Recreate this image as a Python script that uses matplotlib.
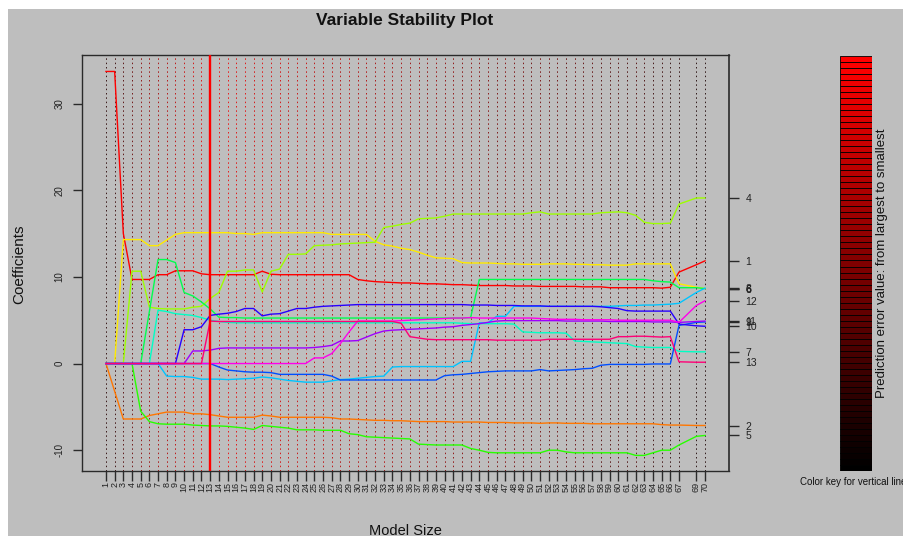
import matplotlib
matplotlib.use("Agg")
import matplotlib.pyplot as plt
from matplotlib.patches import Rectangle

plt.rcParams['font.family'] = ['Liberation Sans', 'DejaVu Sans']

# ---------------- data ----------------
model_sizes = list(range(1, 68)) + [69, 70]
size_labels = [str(s) for s in model_sizes]
best_size = 13

var_labels = ['1', '2', '3', '4', '5', '6', '7', '8', '9', '10', '11', '12', '13']
var_colors = ['#FF0000', '#FF7600', '#FFEB00', '#9DFF00', '#27FF00', '#00FF4E', '#00FFC4',
              '#00C4FF', '#004EFF', '#2700FF', '#9D00FF', '#FF00EB', '#FF0076']

coef_v1 = [33.7, 33.7, 15.0, 9.7, 9.7, 9.7, 10.25, 10.25, 10.7, 10.7,
           10.7, 10.35, 10.25, 10.25, 10.25, 10.25, 10.25, 10.25, 10.65, 10.3,
           10.25, 10.25, 10.25, 10.25, 10.25, 10.25, 10.25, 10.25, 10.25, 9.7,
           9.55, 9.45, 9.4, 9.35, 9.3, 9.3, 9.25, 9.2, 9.2, 9.15,
           9.1, 9.1, 9.05, 9.0, 9.0, 9.0, 9.0, 8.95, 8.95, 8.95,
           8.9, 8.9, 8.9, 8.9, 8.9, 8.85, 8.85, 8.85, 8.75, 8.75,
           8.75, 8.75, 8.75, 8.75, 8.7, 8.8, 10.55,
           11.4, 11.85]
coef_v2 = [0, -3.2, -6.4, -6.4, -6.4, -6.0, -5.8, -5.6, -5.6, -5.6,
           -5.8, -5.8, -5.9, -6.05, -6.2, -6.2, -6.2, -6.2, -5.95, -6.05,
           -6.2, -6.2, -6.2, -6.2, -6.2, -6.2, -6.25, -6.4, -6.4, -6.45,
           -6.5, -6.55, -6.55, -6.6, -6.6, -6.65, -6.7, -6.7, -6.7, -6.7,
           -6.75, -6.75, -6.75, -6.75, -6.8, -6.8, -6.8, -6.85, -6.85, -6.85,
           -6.9, -6.85, -6.85, -6.9, -6.9, -6.9, -6.95, -6.95, -6.95, -6.95,
           -6.95, -6.95, -6.95, -6.95, -7.05, -7.1, -7.1,
           -7.15, -7.15]
coef_v3 = [0, 0, 14.3, 14.3, 14.3, 13.6, 13.6, 14.25, 14.9, 15.1,
           15.1, 15.1, 15.1, 15.1, 15.1, 15.0, 15.0, 14.9, 15.1, 15.1,
           15.1, 15.1, 15.1, 15.1, 15.1, 15.1, 14.9, 14.9, 14.9, 14.9,
           14.9, 14.1, 13.7, 13.55, 13.3, 13.15, 12.85, 12.5, 12.2, 12.15,
           12.1, 11.65, 11.6, 11.6, 11.6, 11.55, 11.5, 11.5, 11.45, 11.45,
           11.45, 11.5, 11.5, 11.5, 11.45, 11.45, 11.4, 11.4, 11.35, 11.35,
           11.35, 11.5, 11.5, 11.5, 11.5, 11.5, 9.2,
           8.8, 8.65]
coef_v4 = [0, 0, 0, 10.65, 10.65, 6.5, 6.35, 6.3, 6.3, 6.3,
           6.5, 6.6, 7.5, 8.2, 10.65, 10.65, 10.8, 10.8, 8.25, 10.65,
           10.9, 12.6, 12.6, 12.65, 13.6, 13.65, 13.7, 13.8, 13.85, 13.9,
           13.95, 14.0, 15.7, 15.85, 16.05, 16.2, 16.7, 16.75, 16.8, 17.0,
           17.25, 17.25, 17.25, 17.25, 17.25, 17.25, 17.25, 17.25, 17.25, 17.4,
           17.5, 17.25, 17.25, 17.25, 17.25, 17.25, 17.25, 17.4, 17.45, 17.5,
           17.4, 17.1, 16.3, 16.15, 16.15, 16.2, 18.4,
           19.1, 19.1]
coef_v5 = [0, 0, 0, 0, -5.5, -6.7, -6.95, -7.0, -7.0, -7.0,
           -7.1, -7.15, -7.2, -7.2, -7.25, -7.35, -7.45, -7.6, -7.15, -7.25,
           -7.35, -7.45, -7.65, -7.65, -7.65, -7.7, -7.7, -7.7, -8.1, -8.2,
           -8.45, -8.5, -8.55, -8.6, -8.65, -8.7, -9.3, -9.35, -9.4, -9.4,
           -9.4, -9.4, -9.8, -10.0, -10.25, -10.3, -10.3, -10.3, -10.3, -10.3,
           -10.3, -10.0, -10.0, -10.2, -10.3, -10.3, -10.3, -10.3, -10.3, -10.3,
           -10.3, -10.6, -10.6, -10.3, -10.0, -10.0, -9.4,
           -8.4, -8.3]
coef_v6 = [0, 0, 0, 0, 0, 6.0, 12.0, 12.0, 11.65, 8.2,
           7.8, 7.1, 6.3, 5.35, 5.3, 5.3, 5.25, 5.25, 5.25, 5.25,
           5.25, 5.25, 5.25, 5.25, 5.25, 5.25, 5.25, 5.25, 5.25, 5.25,
           5.25, 5.25, 5.25, 5.25, 5.25, 5.25, 5.25, 5.25, 5.25, 5.25,
           5.25, 5.25, 5.3, 9.7, 9.7, 9.7, 9.7, 9.7, 9.7, 9.7,
           9.7, 9.7, 9.7, 9.7, 9.7, 9.7, 9.7, 9.7, 9.7, 9.7,
           9.7, 9.7, 9.7, 9.55, 9.45, 9.4, 8.75,
           8.75, 8.65]
coef_v7 = [0, 0, 0, 0, 0, 0, 6.15, 6.0, 5.75, 5.65,
           5.55, 5.3, 5.0, 4.85, 4.75, 4.7, 4.7, 4.7, 4.7, 4.7,
           4.7, 4.7, 4.7, 4.7, 4.7, 4.7, 4.7, 4.7, 4.7, 4.7,
           4.7, 4.7, 4.7, 4.7, 4.7, 4.7, 4.7, 4.7, 4.7, 4.7,
           4.7, 4.65, 4.6, 4.6, 4.6, 4.6, 4.6, 4.55, 3.65, 3.6,
           3.55, 3.55, 3.55, 3.5, 2.6, 2.55, 2.5, 2.45, 2.4, 2.35,
           2.3, 1.95, 1.9, 1.85, 1.85, 1.85, 1.4,
           1.35, 1.35]
coef_v8 = [0, 0, 0, 0, 0, 0, 0, -1.45, -1.5, -1.5,
           -1.6, -1.8, -1.8, -1.8, -1.85, -1.8, -1.75, -1.7, -1.55, -1.65,
           -1.8, -1.95, -2.05, -2.15, -2.15, -2.15, -2.0, -1.85, -1.8, -1.7,
           -1.6, -1.5, -1.45, -0.4, -0.35, -0.35, -0.35, -0.35, -0.35, -0.35,
           -0.35, 0.25, 0.25, 4.7, 4.7, 5.45, 5.45, 6.6, 6.6, 6.6,
           6.6, 6.6, 6.6, 6.6, 6.6, 6.6, 6.6, 6.6, 6.6, 6.65,
           6.7, 6.7, 6.75, 6.75, 6.8, 6.85, 6.95,
           8.2, 8.7]
coef_v9 = [0, 0, 0, 0, 0, 0, 0, 0, 0, 0,
           0, 0, 0, -0.4, -0.75, -0.85, -0.95, -1.0, -1.0, -1.05,
           -1.25, -1.25, -1.25, -1.25, -1.25, -1.25, -1.45, -1.9, -1.9, -1.9,
           -1.9, -1.9, -1.9, -1.9, -1.9, -1.9, -1.9, -1.9, -1.9, -1.4,
           -1.3, -1.25, -1.15, -1.05, -0.95, -0.9, -0.85, -0.85, -0.85, -0.85,
           -0.7, -0.85, -0.8, -0.75, -0.7, -0.6, -0.55, -0.2, -0.1, -0.1,
           -0.1, -0.1, -0.1, -0.05, -0.05, -0.05, 4.4,
           4.75, 4.8]
coef_v10 = [0, 0, 0, 0, 0, 0, 0, 0, 0, 3.9,
            3.9, 4.25, 5.55, 5.7, 5.8, 6.0, 6.35, 6.35, 5.5, 5.7,
            5.75, 6.05, 6.35, 6.35, 6.5, 6.6, 6.65, 6.7, 6.75, 6.8,
            6.8, 6.8, 6.8, 6.8, 6.8, 6.8, 6.8, 6.8, 6.8, 6.8,
            6.8, 6.8, 6.75, 6.75, 6.75, 6.7, 6.7, 6.7, 6.65, 6.65,
            6.65, 6.6, 6.6, 6.6, 6.6, 6.6, 6.6, 6.55, 6.45, 6.35,
            6.1, 6.05, 6.05, 6.05, 6.05, 6.05, 4.55,
            4.35, 4.3]
coef_v11 = [0, 0, 0, 0, 0, 0, 0, 0, 0, 0,
            1.45, 1.45, 1.55, 1.75, 1.8, 1.8, 1.8, 1.8, 1.8, 1.8,
            1.8, 1.8, 1.8, 1.8, 1.85, 1.95, 2.1, 2.6, 2.6, 2.65,
            3.05, 3.45, 3.75, 3.85, 3.9, 3.95, 4.0, 4.05, 4.1, 4.2,
            4.25, 4.4, 4.5, 4.6, 4.75, 4.9, 4.95, 4.95, 4.95, 4.95,
            4.95, 4.95, 4.95, 4.9, 4.9, 4.9, 4.9, 4.9, 4.85, 4.85,
            4.85, 4.85, 4.85, 4.8, 4.8, 4.8, 4.75,
            4.85, 4.9]
coef_v12 = [0, 0, 0, 0, 0, 0, 0, 0, 0, 0,
            0, 0, 0, 0, 0, 0, 0, 0, 0, 0,
            0, 0, 0, 0, 0.65, 0.65, 1.15, 2.3, 3.65, 4.9,
            4.9, 4.9, 4.9, 4.9, 4.95, 5.0, 5.05, 5.1, 5.15, 5.2,
            5.25, 5.25, 5.3, 5.25, 5.25, 5.25, 5.25, 5.25, 5.25, 5.25,
            5.2, 5.15, 5.1, 5.1, 5.1, 5.05, 5.05, 5.05, 5.05, 5.0,
            5.0, 5.0, 5.0, 5.0, 5.0, 5.0, 4.75,
            6.7, 7.25]
coef_v13 = [0, 0, 0, 0, 0, 0, 0, 0, 0, 0,
            0, 0, 4.9, 4.85, 4.85, 4.85, 4.85, 4.85, 4.85, 4.85,
            4.85, 4.85, 4.85, 4.85, 4.85, 4.85, 4.85, 4.85, 4.85, 4.85,
            4.85, 4.85, 4.85, 4.85, 4.65, 3.1, 2.95, 2.8, 2.75, 2.75,
            2.75, 2.75, 2.75, 2.75, 2.75, 2.7, 2.7, 2.7, 2.7, 2.7,
            2.7, 2.8, 2.8, 2.8, 2.8, 2.8, 2.8, 2.8, 2.8, 3.1,
            3.1, 3.15, 3.15, 3.1, 3.05, 3.1, 0.2,
            0.15, 0.15]

coefs = [coef_v1, coef_v2, coef_v3, coef_v4, coef_v5, coef_v6, coef_v7,
         coef_v8, coef_v9, coef_v10, coef_v11, coef_v12, coef_v13]

# red intensity of the vertical guide line for each model size (colour key)
vline_shade = [0.15, 0.2, 0.3, 0.4, 0.55, 0.6, 0.65, 0.7, 0.75, 0.8,
               0.85, 0.9, 1.0, 0.95, 0.95, 0.9, 0.9, 0.85, 0.9, 0.85,
               0.85, 0.8, 0.8, 0.8, 0.75, 0.75, 0.75, 0.7, 0.75, 0.7,
               0.7, 0.65, 0.7, 0.65, 0.65, 0.6, 0.6, 0.55, 0.6, 0.55,
               0.55, 0.5, 0.55, 0.5, 0.5, 0.45, 0.5, 0.45, 0.45, 0.4,
               0.45, 0.4, 0.4, 0.35, 0.4, 0.35, 0.35, 0.3, 0.3, 0.3,
               0.25, 0.3, 0.25, 0.2, 0.2, 0.15, 0.15,
               0.1, 0.1]

y_ticks = [-10, 0, 10, 20, 30]

# ---------------- figure ----------------
W, H, DPI = 904, 536, 100
fig = plt.figure(figsize=(W / DPI, H / DPI), dpi=DPI, facecolor='white')
BG = '#BEBEBE'
fig.patches.append(Rectangle((8 / W, 0), 1 - 8 / W, 1 - 9 / H, transform=fig.transFigure,
                             facecolor=BG, edgecolor='none', zorder=-10))

L, R, T, B = 82, 729, 55, 471
ax = fig.add_axes([L / W, 1 - B / H, (R - L) / W, (B - T) / H])
ax.set_facecolor(BG)
ax.set_xlim(-1.76, 72.76)
ax.set_ylim(-12.4, 35.6)

for s, sh in zip(model_sizes, vline_shade):
    ax.axvline(s, color=(sh, 0.0, 0.0), lw=0.6, linestyle=(0, (1.8, 3.4)), zorder=1)

for vals, col in zip(coefs, var_colors):
    ax.plot(model_sizes, vals, color=col, lw=1.0, zorder=3, solid_joinstyle='round')

ax.axvline(best_size, color='#FF0000', lw=1.7, zorder=5)

spine_col = '#2a2a2a'
for sp in ax.spines.values():
    sp.set_color(spine_col)
    sp.set_linewidth(1.0)

ax.set_xticks(model_sizes)
ax.set_xticklabels(size_labels, rotation=90, fontsize=6.5, color='#222222')
ax.set_yticks(y_ticks)
ax.set_yticklabels([str(v) for v in y_ticks], rotation=90, va='center',
                   fontsize=7, color='#222222')
ax.tick_params(axis='x', length=7, width=1.0, color=spine_col, pad=1)
ax.tick_params(axis='y', length=6.5, width=1.0, color=spine_col, pad=6)

ax2 = ax.twinx()
ax2.set_ylim(ax.get_ylim())
final_vals = [v[-1] for v in coefs]
ax2.set_yticks(final_vals)
ax2.set_yticklabels(var_labels, fontsize=7.5, color='#222222')
ax2.tick_params(axis='y', length=7, width=1.0, color=spine_col, pad=5)
for sp in ax2.spines.values():
    sp.set_visible(False)
ax.spines['right'].set_linewidth(1.2)

# colour key
cax = fig.add_axes([840 / W, 1 - 471 / H, 32 / W, 415 / H])
n = len(model_sizes)
for k in range(n):
    cax.add_patch(Rectangle((0, k), 1, 1, facecolor=(k / (n - 1), 0, 0),
                            edgecolor='black', lw=0.6))
cax.set_xlim(0, 1)
cax.set_ylim(0, n)
cax.axis('off')

fig.text(882 / W, 1 - 263 / H, 'Prediction error value: from largest to smallest',
         rotation=90, ha='center', va='center', fontsize=9.5, color='#111111')
fig.text(800 / W, 1 - 482 / H, 'Color key for vertical lines', ha='left', va='center',
         fontsize=7, color='#111111')

fig.text(405 / W, 1 - 20 / H, 'Variable Stability Plot', ha='center', va='center',
         fontsize=12.5, fontweight='bold', color='#111111')
fig.text(19 / W, 1 - 264 / H, 'Coefficients', rotation=90, ha='center', va='center',
         fontsize=11, color='#111111')
fig.text(405 / W, 1 - 531 / H, 'Model Size', ha='center', va='center',
         fontsize=10.5, color='#111111')

fig.savefig('out.png', dpi=DPI, facecolor='white')
